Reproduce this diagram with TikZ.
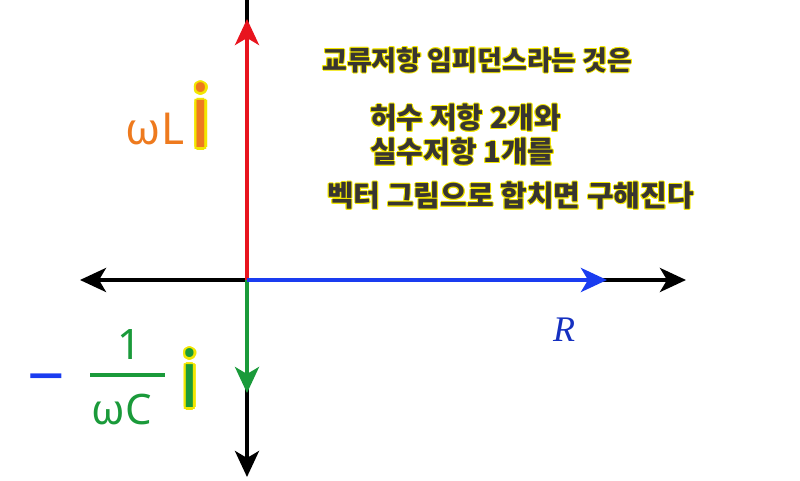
\documentclass[tikz,border=0pt]{standalone}
\usepackage{fontspec}
\usepackage{xcolor}
\usetikzlibrary{arrows.meta}
\setmainfont{Noto Sans}
\newfontfamily\krfont{Noto Sans CJK KR}
\newfontfamily\rfont{Liberation Serif}
\definecolor{axred}{HTML}{E8141E}
\definecolor{axgreen}{HTML}{1A9A3A}
\definecolor{axblue}{HTML}{1A3CF0}
\definecolor{axorange}{HTML}{EE7A1E}
\definecolor{glowyel}{HTML}{F2E600}
\newcommand{\glowat}[4]{\rlap{\kern#1\raisebox{#2}{\textcolor{#3}{#4}}}}
\newcommand{\glow}[3]{\leavevmode
\glowat{#1}{0pt}{#2}{#3}\glowat{-#1}{0pt}{#2}{#3}%
\glowat{0pt}{#1}{#2}{#3}\glowat{0pt}{-#1}{#2}{#3}%
\glowat{\dimexpr#1*7/10\relax}{\dimexpr#1*7/10\relax}{#2}{#3}%
\glowat{-\dimexpr#1*7/10\relax}{\dimexpr#1*7/10\relax}{#2}{#3}%
\glowat{\dimexpr#1*7/10\relax}{-\dimexpr#1*7/10\relax}{#2}{#3}%
\glowat{-\dimexpr#1*7/10\relax}{-\dimexpr#1*7/10\relax}{#2}{#3}%
#3}
\begin{document}
\begin{tikzpicture}[x=1pt,y=1pt,
axis/.style={line width=4pt,-{Stealth[length=26pt,width=24pt,inset=7pt]}},
krline/.style={anchor=west,inner sep=0pt,text=black!90!yellow,font=\krfont\bfseries\fontsize{29}{29}\selectfont}]
\tikzstyle{every node}=[inner sep=0pt]
\useasboundingbox (0,0) rectangle (800,481);
\coordinate (O) at (247,201);
\coordinate (Top) at (247,481);
\coordinate (Bottom) at (247,4);
\coordinate (Left) at (80,201);
\coordinate (Right) at (686,201);
\coordinate (ImL) at (247,462);
\coordinate (ImC) at (247,88);
\coordinate (Re) at (607,201);
\draw[axis] (O) -- (Left);
\draw[axis] (O) -- (Right);
\draw[axis] (O) -- (Bottom);
\draw[line width=4pt] (O) -- (Top);
\draw[axis,axred] (O) -- (ImL);
\draw[axis,axgreen] (O) -- (ImC);
\draw[axis,axblue] (O) -- (Re);
\node[anchor=base,text=axorange,font=\fontsize{44}{44}\selectfont] (wL) at (155,336) {ωL};
\node[anchor=base,text=axorange,font=\bfseries\fontsize{88}{88}\selectfont] (iL) at (201,333) {\glow{2.5pt}{glowyel}{i}};
\node[text=axblue,font=\fontsize{66}{66}\selectfont] (minus) at (46,94) {−};
\node[anchor=base,text=axgreen,font=\fontsize{42}{42}\selectfont] (one) at (130,121) {1};
\node[anchor=base,text=axgreen,font=\fontsize{42}{42}\selectfont] (wC) at (122,56) {ωC};
\draw[axgreen,line width=3.5pt] (90,106) -- (165,106);
\node[anchor=base,text=axgreen,font=\bfseries\fontsize{80}{80}\selectfont] (iC) at (190,73) {\glow{2.5pt}{glowyel}{i}};
\node[text=axblue!80!black,font=\rfont\itshape\fontsize{36}{36}\selectfont] (R) at (564,151) {R};
\node[krline,font=\krfont\bfseries\fontsize{27}{27}\selectfont] (t1) at (322,421) {\glow{1pt}{glowyel}{교류저항 임피던스라는 것은}};
\node[krline] (t2) at (370,363) {\glow{1pt}{glowyel}{허수 저항 2개와}};
\node[krline] (t3) at (370,329) {\glow{1pt}{glowyel}{실수저항 1개를}};
\node[krline] (t4) at (327,285) {\glow{1pt}{glowyel}{벡터 그림으로 합치면 구해진다}};
\end{tikzpicture}
\end{document}
